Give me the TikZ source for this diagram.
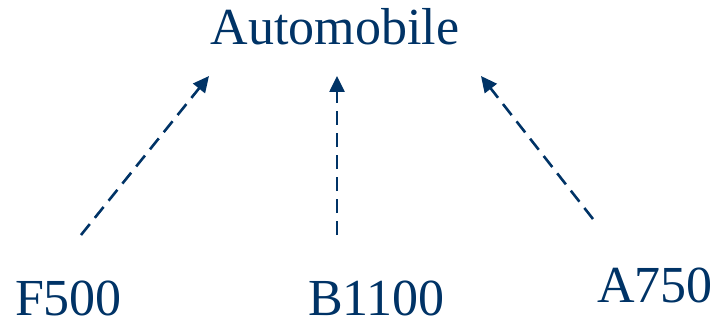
\documentclass[tikz,border=0pt]{standalone}
\usepackage{fontspec}
\setmainfont{Liberation Serif}
\usetikzlibrary{arrows.meta}
\definecolor{navy}{RGB}{0,51,102}
\begin{document}
\begin{tikzpicture}[x=1pt,y=-1pt,
  lbl/.style={anchor=base,inner sep=0pt,text=navy,font=\fontsize{52}{60}\selectfont},
  dep/.style={draw=navy,line width=2.6pt,dash pattern=on 14pt off 8pt,
    -{Triangle[length=16pt,width=15pt,fill=navy]}}]
\useasboundingbox (0,0) rectangle (713,321);
\node[lbl] (auto) at (335,45) {Automobile};
\node[lbl] (f) at (68.5,315) {F500};
\node[lbl] (b) at (376.5,315) {B1100};
\node[lbl] (a) at (655,302) {A750};
\coordinate (ft) at (81,235);
\coordinate (fh) at (209,76);
\coordinate (bt) at (337,235);
\coordinate (bh) at (337,76);
\coordinate (at) at (593,219);
\coordinate (ah) at (481,76);
\draw[dep] (ft) -- (fh);
\draw[dep] (bt) -- (bh);
\draw[dep] (at) -- (ah);
\end{tikzpicture}
\end{document}
